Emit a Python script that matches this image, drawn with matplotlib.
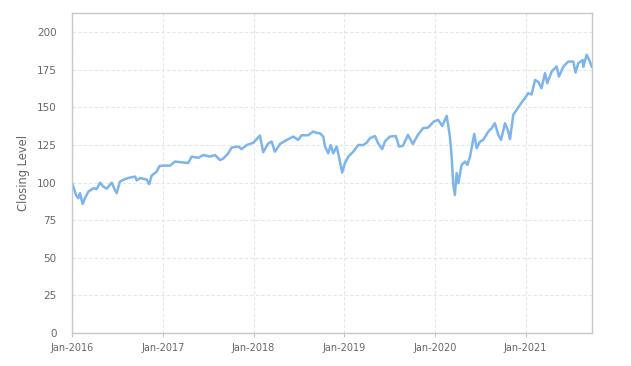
import matplotlib
matplotlib.use("Agg")
import matplotlib.pyplot as plt
import matplotlib.dates as mdates
import pandas as pd

dates = [
    "2016-01-01", "2016-01-17", "2016-01-26", "2016-02-02", "2016-02-13", "2016-02-22",
    "2016-03-07", "2016-03-27", "2016-04-09", "2016-04-23", "2016-05-06", "2016-05-20",
    "2016-06-09", "2016-06-22", "2016-06-29", "2016-07-12", "2016-08-01", "2016-08-22",
    "2016-09-11", "2016-09-18", "2016-10-01", "2016-10-28", "2016-11-07", "2016-11-17",
    "2016-12-07", "2016-12-18", "2017-01-03", "2017-01-30", "2017-02-19", "2017-03-18",
    "2017-04-13", "2017-04-27", "2017-05-24", "2017-06-13", "2017-07-10", "2017-07-30",
    "2017-08-19", "2017-09-01", "2017-09-21", "2017-10-05", "2017-11-01", "2017-11-14",
    "2017-12-05", "2018-01-01", "2018-01-27", "2018-02-09", "2018-03-01", "2018-03-15",
    "2018-03-28", "2018-04-18", "2018-05-15", "2018-06-10", "2018-06-30", "2018-07-14",
    "2018-08-09", "2018-08-30", "2018-09-12", "2018-09-26", "2018-10-09", "2018-10-16",
    "2018-10-29", "2018-11-08", "2018-11-18", "2018-12-02", "2018-12-11", "2018-12-24",
    "2019-01-04", "2019-01-18", "2019-02-07", "2019-02-27", "2019-03-19", "2019-04-02",
    "2019-04-15", "2019-05-05", "2019-05-18", "2019-06-03", "2019-06-14", "2019-07-04",
    "2019-07-28", "2019-08-10", "2019-08-26", "2019-09-15", "2019-10-05", "2019-10-25",
    "2019-11-15", "2019-12-05", "2019-12-28", "2020-01-15", "2020-01-31", "2020-02-18",
    "2020-03-02", "2020-03-09", "2020-03-15", "2020-03-22", "2020-03-29", "2020-04-05",
    "2020-04-18", "2020-05-02", "2020-05-11", "2020-05-22", "2020-06-08", "2020-06-18",
    "2020-07-01", "2020-07-14", "2020-08-04", "2020-08-17", "2020-08-30", "2020-09-13",
    "2020-09-24", "2020-10-10", "2020-10-23", "2020-10-30", "2020-11-12", "2020-12-09",
    "2020-12-29", "2021-01-12", "2021-01-25", "2021-02-08", "2021-02-21", "2021-03-06",
    "2021-03-20", "2021-03-29", "2021-04-16", "2021-05-06", "2021-05-15", "2021-06-02",
    "2021-06-22", "2021-07-12", "2021-07-21", "2021-08-01", "2021-08-19", "2021-08-21",
    "2021-09-04", "2021-09-14", "2021-09-24",
]
closing = [
    100.0, 91.8, 89.6, 93.0, 85.8, 89.6,
    94.0, 96.3, 95.7, 100.0, 97.3, 96.0,
    100.0, 95.0, 93.0, 100.7, 102.3, 103.4,
    104.0, 101.5, 103.0, 102.0, 99.0, 104.7,
    107.3, 111.0, 111.3, 111.3, 114.0, 113.5,
    113.0, 117.3, 116.5, 118.4, 117.3, 118.4,
    115.0, 116.0, 119.5, 123.3, 124.0, 122.3,
    125.0, 126.6, 131.3, 120.2, 126.0, 127.3,
    120.6, 125.7, 128.4, 130.6, 128.4, 131.5,
    131.5, 134.0, 133.0, 132.8, 130.6, 124.0,
    119.5, 125.0, 119.5, 124.0, 117.3, 106.7,
    112.9, 117.3, 120.6, 125.0, 125.0, 126.6,
    129.5, 131.0, 126.2, 122.2, 127.3, 130.6,
    131.0, 124.0, 124.5, 131.7, 125.7, 131.7,
    136.2, 136.6, 140.6, 141.7, 137.7, 144.4,
    130.6, 117.3, 99.6, 91.8, 106.3, 99.6,
    111.8, 114.0, 111.8, 117.3, 132.4, 122.9,
    127.3, 128.4, 134.0, 136.2, 139.5, 131.7,
    128.4, 139.5, 134.0, 128.9, 145.0, 151.7,
    156.2, 159.5, 158.6, 168.3, 167.0, 162.8,
    172.8, 166.1, 173.9, 177.2, 170.5, 177.2,
    180.5, 180.5, 173.2, 179.4, 181.6, 177.0,
    185.0, 181.6, 177.2,
]
y_ticks = [0, 25, 50, 75, 100, 125, 150, 175, 200]
x_tick_dates = ["2016-01-01", "2017-01-01", "2018-01-01", "2019-01-01", "2020-01-01", "2021-01-01"]
y_title = "Closing Level"

dt = pd.to_datetime(dates)

fig = plt.figure(figsize=(6.31, 3.66), dpi=100)
ax = fig.add_axes([0.1141, 0.0902, 0.9377 - 0.1141, 0.9653 - 0.0902])

ax.plot(dt, closing, color="#7cb5ec", linewidth=1.8, solid_joinstyle="round")

ax.set_xlim(dt[0], dt[-1])
ax.set_ylim(0, 213)
ax.set_yticks(y_ticks)
ax.set_xticks(pd.to_datetime(x_tick_dates))
ax.xaxis.set_major_formatter(mdates.DateFormatter("%b-%Y"))

grid_kw = dict(color="#e6e6e6", linewidth=0.8, linestyle=(0, (3, 2)))
ax.yaxis.grid(True, **grid_kw)
ax.xaxis.grid(True, **grid_kw)
ax.set_axisbelow(True)

for s in ax.spines.values():
    s.set_color("#c8c8c8")
    s.set_linewidth(1.0)

ax.tick_params(axis="y", length=0, pad=11, labelsize=7.5, labelcolor="#666666")
ax.tick_params(axis="x", length=3, width=0.8, color="#c8c8c8", pad=4,
               labelsize=7, labelcolor="#666666")

ax.set_ylabel(y_title, fontsize=8.3, color="#666666", labelpad=5)

fig.savefig("out.png", dpi=100)
